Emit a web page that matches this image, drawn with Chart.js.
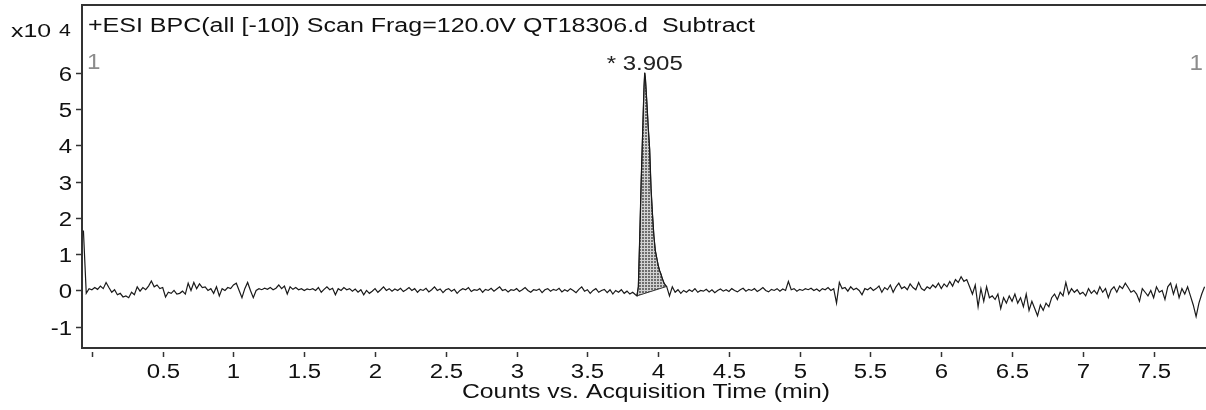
<!DOCTYPE html>
<html><head><meta charset="utf-8">
<script src="https://cdn.jsdelivr.net/npm/chart.js@4.4.1/dist/chart.umd.min.js"></script>
<style>html,body{margin:0;padding:0;background:#fff;overflow:hidden}#wrap{width:1206px;height:410px;position:relative}</style>
</head><body><div id="wrap"><canvas id="c" width="1206" height="410"></canvas></div>
<script>
// ---- data (counts in units of x10^4, time in min) ----
const scanStart = -0.06;
const scanStep = 0.02;
const countsBeforePeak = [
 1.65,-0.08,0.05,0.02,0.08,0.03,0.12,0.05,0.22,0.08,
 -0.05,0.02,-0.12,-0.08,-0.18,-0.15,-0.2,-0.05,-0.12,0.1,
 -0.02,0.08,0.02,0.12,0.26,0.1,0.15,0.05,0.08,-0.18,
 -0.05,-0.08,0.0,-0.1,-0.08,-0.02,-0.1,0.2,0.0,0.22,
 0.05,0.18,0.08,0.1,0.0,0.05,-0.08,0.1,-0.15,0.05,
 0.0,0.08,0.05,0.15,0.2,0.0,-0.2,0.05,0.22,0.0,
 -0.2,0.0,0.05,0.02,0.06,0.03,0.08,0.02,0.06,0.15,
 0.05,0.12,-0.1,0.1,0.03,0.08,0.02,0.05,0.0,0.04,
 0.02,0.05,0.0,0.08,-0.05,0.03,0.1,0.02,0.06,-0.12,
 0.05,0.0,0.08,0.02,0.05,-0.02,0.04,-0.05,0.02,-0.12,
 0.0,-0.08,-0.02,0.05,-0.05,0.02,0.1,0.0,0.05,-0.02,
 0.04,0.0,0.06,-0.03,0.02,0.08,0.0,0.05,-0.05,0.03,
 0.0,0.06,-0.04,0.02,0.1,0.0,0.04,-0.06,0.02,0.05,
 -0.02,0.03,-0.08,0.0,0.05,0.02,0.08,-0.03,0.02,0.0,
 0.05,-0.05,0.03,0.0,0.06,-0.02,0.04,0.1,0.0,0.03,
 -0.04,0.02,0.0,0.05,-0.03,0.02,0.08,0.0,-0.05,0.02,
 0.0,0.04,-0.06,0.02,0.05,-0.02,0.03,0.0,0.06,-0.04,
 0.02,-0.02,0.05,0.0,-0.06,0.03,0.1,-0.02,0.02,-0.08,
 0.0,0.05,-0.05,0.0,0.03,-0.06,0.02,-0.1,0.0,-0.05,
 0.02,-0.08,-0.02,-0.1,-0.05,-0.12
];
const peakTimes = [3.85,3.86,3.87,3.88,3.89,3.90,3.905,3.91,3.92,3.93,3.94,3.95,3.96,3.97,3.98,3.99,4.00,4.01,4.02,4.03,4.04,4.05,4.06];
const peakCounts = [-0.15,0.1,1.5,3.0,4.3,5.6,6.0,5.85,5.2,4.5,3.9,2.8,2.1,1.5,1.1,0.9,0.7,0.55,0.45,0.32,0.22,0.15,0.11];
const afterPeakStart = 4.08;
const countsAfterPeak = [
 -0.15,0.1,-0.05,0.02,-0.08,0.0,-0.05,0.02,-0.03,0.05,
 -0.05,0.0,-0.02,0.03,-0.04,0.02,-0.06,0.0,0.04,-0.02,
 0.02,-0.03,0.05,0.0,-0.04,0.02,0.06,-0.02,0.03,0.0,
 0.05,-0.03,0.02,0.08,0.0,-0.04,0.03,0.0,0.05,-0.02,
 0.04,0.0,0.25,0.02,0.05,-0.02,0.03,0.0,0.05,0.02,
 0.06,0.0,0.04,-0.02,0.05,0.02,0.08,0.0,0.05,-0.35,
 0.22,0.05,0.08,-0.02,0.1,0.02,0.06,0.0,-0.12,0.05,
 0.02,0.08,0.0,0.05,0.12,-0.05,0.08,0.02,0.15,-0.05,
 0.1,0.2,0.05,0.1,0.02,0.18,0.08,0.02,0.22,0.05,
 0.0,0.1,0.05,0.15,0.08,0.2,0.05,0.18,0.1,0.25,
 0.12,0.3,0.22,0.38,0.25,0.3,0.1,-0.1,0.15,-0.45,
 0.05,-0.3,0.1,-0.2,-0.15,-0.25,-0.1,-0.5,-0.2,-0.35,
 -0.15,-0.3,-0.1,-0.35,-0.2,-0.45,-0.1,-0.55,-0.3,-0.5,
 -0.7,-0.4,-0.55,-0.35,-0.45,-0.2,-0.1,-0.25,-0.05,-0.15,
 0.22,-0.1,0.05,-0.05,0.02,-0.1,-0.05,-0.15,0.05,-0.08,
 0.0,-0.1,0.1,-0.05,0.05,-0.2,0.02,0.1,-0.05,0.12,
 0.05,0.2,0.08,-0.05,0.0,-0.1,-0.3,0.05,-0.05,-0.15,
 0.0,-0.2,0.1,-0.05,0.0,-0.25,0.1,0.2,-0.1,0.15,
 -0.2,0.05,-0.1,0.1,-0.15,-0.4,-0.72,-0.35,-0.1,0.1
];
const peakLabelTime = 3.905;
const peakLabel = '* 3.905';
const yTickValues = [-1,0,1,2,3,4,5,6];
const yTickLabels = ['-1','0','1','2','3','4','5','6'];
const xTickValues = [0,0.5,1,1.5,2,2.5,3,3.5,4,4.5,5,5.5,6,6.5,7,7.5];
const xTickLabels = ['','0.5','1','1.5','2','2.5','3','3.5','4','4.5','5','5.5','6','6.5','7','7.5'];
const chartTitle = '+ESI BPC(all [-10]) Scan Frag=120.0V QT18306.d  Subtract';
const xAxisTitle = 'Counts vs. Acquisition Time (min)';
const yMultiplierBase = 'x10';
const yMultiplierExp = '4';
const scanMarker = '1';

// ---- build points ----
const trace = [];
countsBeforePeak.forEach((v, i) => trace.push({x: +(scanStart + i * scanStep).toFixed(3), y: v}));
peakTimes.forEach((t, i) => trace.push({x: t, y: peakCounts[i]}));
countsAfterPeak.forEach((v, i) => trace.push({x: +(afterPeakStart + i * scanStep).toFixed(3), y: v}));
const peakShape = peakTimes.map((t, i) => ({x: t, y: peakCounts[i]}));
peakShape.push({x: peakTimes[0], y: peakCounts[0]});

const canvas = document.getElementById('c');
const ctx = canvas.getContext('2d');
const pc = document.createElement('canvas');
pc.width = 3; pc.height = 3;
const pctx = pc.getContext('2d');
pctx.fillStyle = '#6e6e6e'; pctx.fillRect(0, 0, 3, 3);
pctx.fillStyle = '#d2d2d2'; pctx.fillRect(2, 0, 1, 3); pctx.fillRect(0, 2, 3, 1);
const hatch = ctx.createPattern(pc, 'repeat');

const FONT = '"Liberation Sans", Arial, Helvetica, sans-serif';
const annot = {
  id: 'annot',
  afterDraw(chart) {
    const c = chart.ctx, xs = chart.scales.x, ys = chart.scales.y, a = chart.chartArea;
    function txt(s, x, y, size, sx, align, color) {
      c.save(); c.translate(x, y); c.scale(sx, 1);
      c.font = size + 'px ' + FONT; c.fillStyle = color;
      c.textAlign = align; c.textBaseline = 'alphabetic';
      c.fillText(s, 0, 0); c.restore();
    }
    c.save();
    c.strokeStyle = '#333';
    c.lineWidth = 2;
    c.beginPath(); c.moveTo(a.left - 1, a.top); c.lineTo(a.right, a.top); c.stroke();
    c.lineWidth = 1.5;
    yTickValues.forEach((v, i) => {
      const py = Math.round(ys.getPixelForValue(v)) + 0.5;
      c.beginPath(); c.moveTo(a.left - 6, py); c.lineTo(a.left - 1, py); c.stroke();
      txt(yTickLabels[i], a.left - 10, py + 7, 20, 1.2, 'right', '#111');
    });
    xTickValues.forEach((v, i) => {
      const px = Math.round(xs.getPixelForValue(v)) + 0.5;
      c.beginPath(); c.moveTo(px, a.bottom + 4); c.lineTo(px, a.bottom + 9); c.stroke();
      if (xTickLabels[i]) txt(xTickLabels[i], px, a.bottom + 29.5, 20, 1.2, 'center', '#111');
    });
    c.restore();
    txt(chartTitle, 88, 31.5, 20, 1.25, 'left', '#111');
    txt(xAxisTitle, (a.left + a.right) / 2 + 2, 398, 21, 1.18, 'center', '#111');
    txt(yMultiplierBase, 11, 37, 18, 1.38, 'left', '#111');
    txt(yMultiplierExp, 59, 36, 17, 1.25, 'left', '#111');
    txt(scanMarker, 87, 69, 22, 1.1, 'left', '#8c8c8c');
    txt(scanMarker, 1203, 70, 22, 1.1, 'right', '#8c8c8c');
    txt(peakLabel, xs.getPixelForValue(peakLabelTime), 70, 20, 1.2, 'center', '#222');
  }
};

new Chart(ctx, {
  type: 'line',
  data: {
    datasets: [
      {label: 'BPC', data: trace, borderColor: '#1a1a1a', borderWidth: 1.2, pointRadius: 0, fill: false, tension: 0, order: 1},
      {label: 'Peak 3.905', data: peakShape, borderColor: '#333', borderWidth: 1, backgroundColor: hatch, fill: 'shape', pointRadius: 0, tension: 0, order: 2}
    ]
  },
  options: {
    responsive: false, animation: false, devicePixelRatio: 1,
    layout: {padding: {left: 82, right: 0, top: 5, bottom: 62}},
    plugins: {legend: {display: false}, tooltip: {enabled: false}, title: {display: false}},
    scales: {
      x: {type: 'linear', min: -0.07, max: 7.87, ticks: {display: false}, grid: {display: false, drawTicks: false}, border: {display: true, color: '#333', width: 2}},
      y: {type: 'linear', min: -1.587, max: 7.87, ticks: {display: false}, grid: {display: false, drawTicks: false}, border: {display: true, color: '#333', width: 2}}
    }
  },
  plugins: [annot]
});
</script>
</body></html>
